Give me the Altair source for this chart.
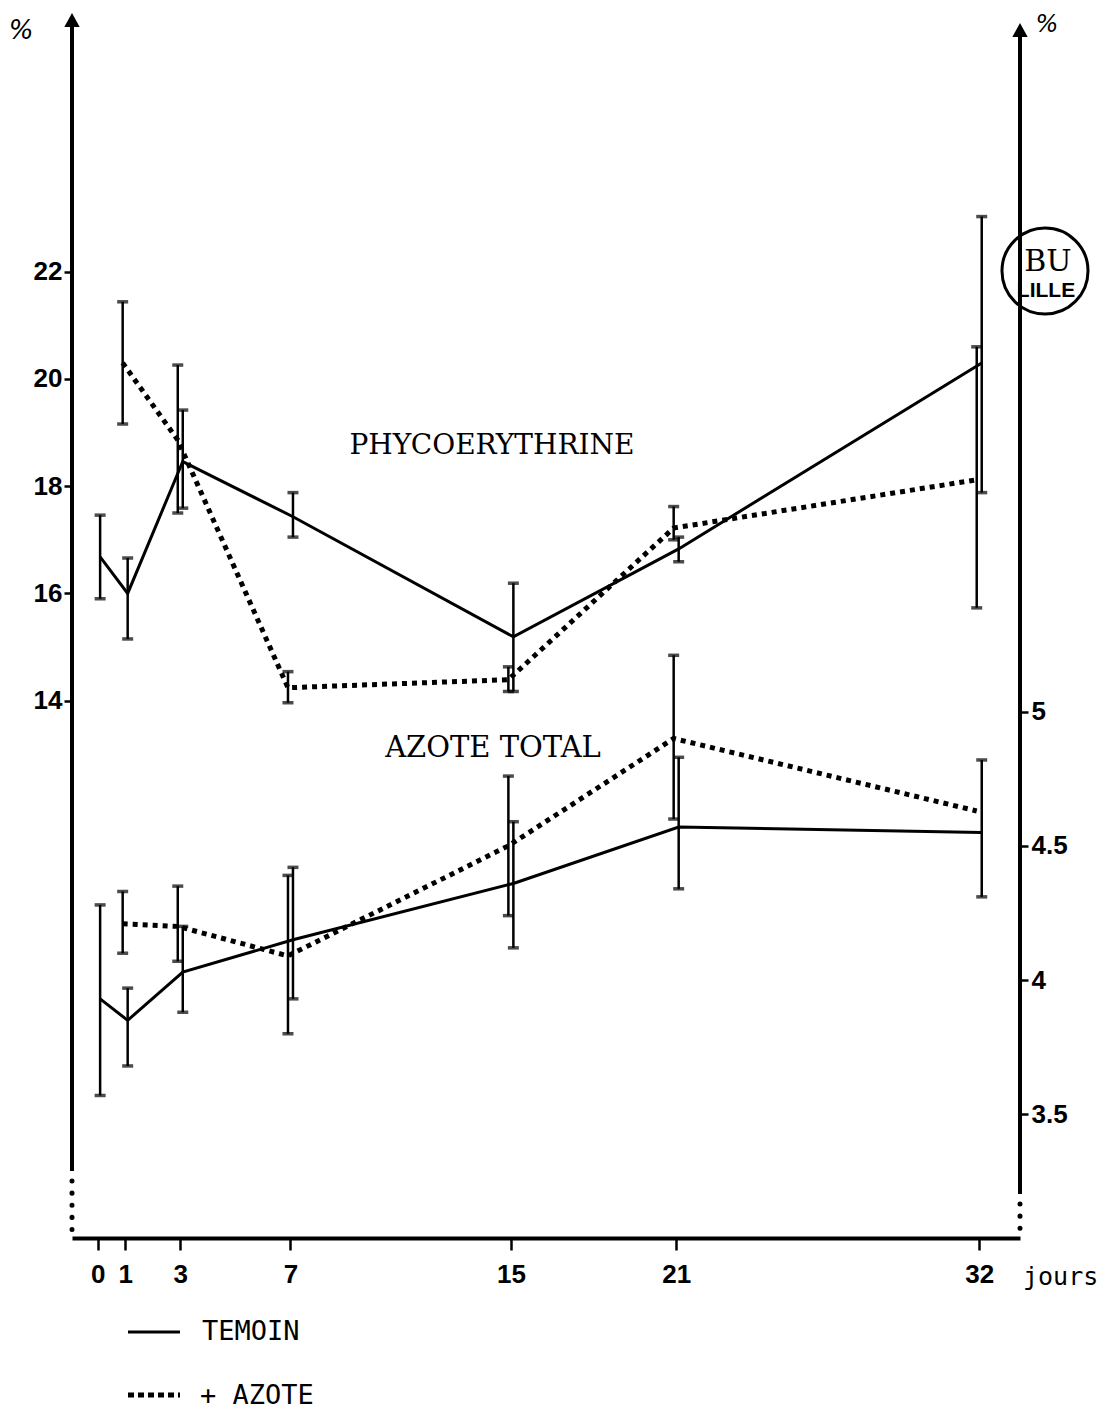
import altair as alt
import pandas as pd

# --- data -------------------------------------------------------------
days = [0, 1, 3, 7, 15, 21, 32]

# Phycoérythrine (% , left axis): mean, lower and upper end of the bar
phyco_temoin = [16.68, 16.0, 18.46, 17.43, 15.19, 16.83, 20.3]
phyco_temoin_lo = [15.9, 15.15, 17.59, 17.05, 14.17, 16.59, 17.88]
phyco_temoin_hi = [17.46, 16.66, 19.42, 17.88, 16.19, 17.05, 23.03]

phyco_azote = [None, 20.3, 18.86, 14.24, 14.39, 17.22, 18.12]
phyco_azote_lo = [None, 19.16, 17.5, 13.96, 14.17, 17.0, 15.73]
phyco_azote_hi = [None, 21.44, 20.26, 14.54, 14.63, 17.62, 20.6]

# Azote total (% , right axis)
azote_temoin = [3.93, 3.85, 4.03, 4.15, 4.36, 4.57, 4.55]
azote_temoin_lo = [3.57, 3.68, 3.88, 3.93, 4.12, 4.34, 4.31]
azote_temoin_hi = [4.28, 3.97, 4.2, 4.42, 4.59, 4.83, 4.82]

azote_azote = [None, 4.21, 4.2, 4.09, 4.5, 4.9, 4.63]
azote_azote_lo = [None, 4.1, 4.07, 3.8, 4.24, 4.6, None]
azote_azote_hi = [None, 4.33, 4.35, 4.39, 4.76, 5.21, None]

left_ticks = [14, 16, 18, 20, 22]
right_ticks = [3.5, 4, 4.5, 5]


def frame(mean, lo, hi, serie):
    return pd.DataFrame({"jour": days, "val": mean, "lo": lo, "hi": hi, "serie": serie})


phyco = pd.concat([
    frame(phyco_temoin, phyco_temoin_lo, phyco_temoin_hi, "TEMOIN"),
    frame(phyco_azote, phyco_azote_lo, phyco_azote_hi, "+ AZOTE"),
], ignore_index=True)
azote = pd.concat([
    frame(azote_temoin, azote_temoin_lo, azote_temoin_hi, "TEMOIN"),
    frame(azote_azote, azote_azote_lo, azote_azote_hi, "+ AZOTE"),
], ignore_index=True)

# --- scales and axes --------------------------------------------------
W, H = 948, 1225
NUM_FONT = "Liberation Sans"
NUM_SIZE = 26

x_scale = alt.Scale(domain=[-0.93, 33.48], nice=False, zero=False)
x_axis = alt.Axis(values=days, domainWidth=4, domainColor="black", tickColor="black",
                  tickWidth=2.5, tickSize=12, labelFontSize=NUM_SIZE, labelFont=NUM_FONT,
                  labelFontWeight="bold", labelColor="black", labelPadding=11,
                  labelFlush=False, labelOverlap=False, grid=False, title=None)
X = alt.X("jour:Q", scale=x_scale, axis=x_axis)

phyco_scale = alt.Scale(domain=[3.974, 26.828], nice=False, zero=False)
phyco_axis = alt.Axis(orient="left", values=left_ticks, domain=False, tickSize=8,
                      tickWidth=2.5, tickColor="black", labelFontSize=NUM_SIZE, labelFont=NUM_FONT,
                      labelFontWeight="bold", labelColor="black", labelPadding=2,
                      grid=False, title=None)

azote_scale = alt.Scale(domain=[3.039, 7.603], nice=False, zero=False)
azote_axis = alt.Axis(orient="right", values=right_ticks, format=".1~f", domain=False,
                      tickSize=8, tickWidth=2.5, tickColor="black", labelFontSize=NUM_SIZE,
                      labelFont=NUM_FONT, labelFontWeight="bold", labelColor="black",
                      labelPadding=3, grid=False, title=None)

STYLES = [
    ("TEMOIN", 2.5, dict(strokeWidth=3)),
    ("+ AZOTE", -2.5, dict(strokeWidth=5, strokeDash=[5, 5])),
]


def panel(df, yscale, yaxis):
    base = alt.Chart(df)
    layers = []
    for serie, off, style in STYLES:
        sub = base.transform_filter(alt.datum.serie == serie)
        bar = (sub.transform_filter("isValid(datum.lo)")
               .mark_rule(color="black", strokeWidth=2.5, xOffset=off)
               .encode(x=X, y=alt.Y("lo:Q", scale=yscale, axis=yaxis), y2="hi:Q"))
        caps = (sub.transform_filter("isValid(datum.lo)")
                .transform_fold(["lo", "hi"], as_=["bout", "borne"])
                .mark_tick(color="black", orient="horizontal", size=11, thickness=3.5, xOffset=off)
                .encode(x=X, y=alt.Y("borne:Q", scale=yscale, axis=yaxis)))
        line = (sub.transform_filter("isValid(datum.val)")
                .mark_line(color="black", xOffset=off, **style)
                .encode(x=X, y=alt.Y("val:Q", scale=yscale, axis=yaxis)))
        layers += [bar, caps, line]
    return alt.layer(*layers)


phyco_panel = panel(phyco, phyco_scale, phyco_axis)
azote_panel = panel(azote, azote_scale, azote_axis)

# --- decorations: axis lines, arrows, labels, legend ------------------
one = pd.DataFrame({"k": [0]})


def rule(x1, y1, y2=None, x2=None, **kw):
    enc = dict(x=alt.value(x1), y=alt.value(y1))
    if y2 is not None:
        enc["y2"] = alt.value(y2)
    if x2 is not None:
        enc["x2"] = alt.value(x2)
    return alt.Chart(one).mark_rule(color="black", **kw).encode(**enc)


def label(txt, x, y, **kw):
    return alt.Chart(one).mark_text(text=txt, color="black", **kw).encode(
        x=alt.value(x), y=alt.value(y))


ARROW = "M0,-1L1.1,1L-1.1,1Z"
DOTS = dict(strokeWidth=5, strokeDash=[0.1, 12], strokeCap="round")

deco = [
    # left vertical axis
    rule(0, 6, 1158, strokeWidth=4),
    rule(0, 1168, 1225, **DOTS),
    # right vertical axis
    rule(W, 16, 1181, strokeWidth=4),
    rule(W, 1191, 1225, **DOTS),
    alt.Chart(one).mark_point(shape=ARROW, filled=True, color="black", size=196, opacity=1)
    .encode(x=alt.value(0), y=alt.value(7)),
    alt.Chart(one).mark_point(shape=ARROW, filled=True, color="black", size=196, opacity=1)
    .encode(x=alt.value(W), y=alt.value(17)),
    label("%", -51, 18, fontSize=26, font="DejaVu Sans", fontStyle="italic"),
    label("%", 975, 12, fontSize=24, font="DejaVu Sans", fontStyle="italic"),
    label("jours", 951, 1272, fontSize=25, font="DejaVu Sans Mono", align="left",
          baseline="alphabetic"),
    # curve names
    label("PHYCOERYTHRINE", 420, 433, fontSize=28, font="DejaVu Serif"),
    label("AZOTE TOTAL", 421, 735, fontSize=29, font="DejaVu Serif"),
    # legend
    rule(56, 1319, x2=108, strokeWidth=3),
    rule(56, 1382, x2=108, strokeWidth=5, strokeDash=[6, 4]),
    label("TEMOIN", 130, 1319, fontSize=27, font="DejaVu Sans Mono", align="left"),
    label("+ AZOTE", 128, 1383, fontSize=27, font="DejaVu Sans Mono", align="left"),
    # library stamp
    alt.Chart(one).mark_point(shape="circle", filled=False, color="black", strokeWidth=3,
                              size=7400, opacity=1)
    .encode(x=alt.value(973), y=alt.value(258)),
    label("BU", 976, 249, fontSize=30, font="DejaVu Serif"),
    label("LILLE", 974, 278, fontSize=21, font=NUM_FONT, fontWeight="bold"),
]

chart = (
    alt.layer(phyco_panel, azote_panel, *deco)
    .resolve_scale(y="independent")
    .properties(width=W, height=H,
                padding={"left": 72, "top": 13, "right": 77, "bottom": 172},
                autosize=alt.AutoSizeParams(type="none"),
                background="white")
    .configure_view(stroke=None)
)

chart.save("out.html", embed_options={"renderer": "svg", "actions": False})
